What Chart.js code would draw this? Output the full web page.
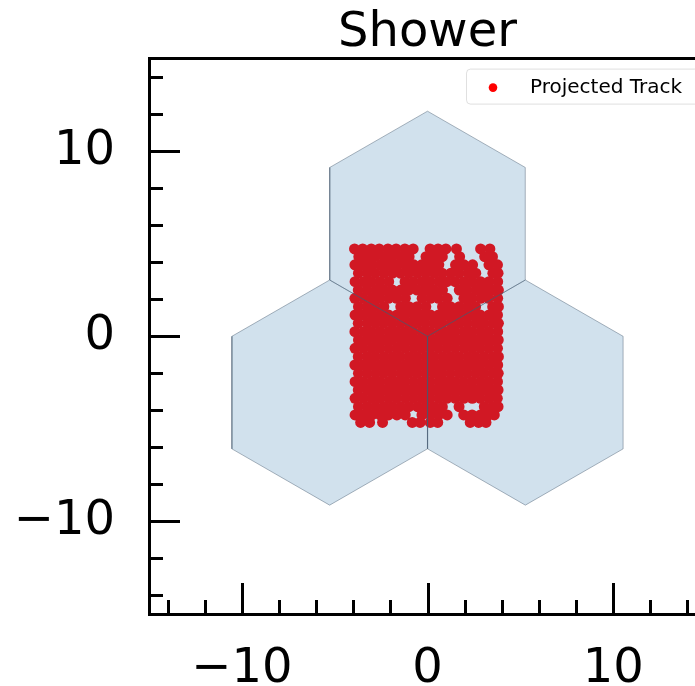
<!DOCTYPE html>
<html>
<head>
<meta charset="utf-8">
<script src="https://cdn.jsdelivr.net/npm/chart.js@4.4.1/dist/chart.umd.min.js"></script>
<style>
   html, body { margin: 0; padding: 0; background: #fff; overflow: hidden; }
</style>
</head>
<body>
<canvas id="myChart" width="720" height="686"></canvas>
<script>
//tick labels and minor tick positions
var majorTicks = [-10, 0, 10];
var minorTicks = [-14, -12, -8, -6, -4, -2, 2, 4, 6, 8, 12, 14];

//hexagon cells: centers and radius (data units)
var hexCenters = [[0, 6.08], [-5.27, -3.04], [5.27, -3.04]];
var hexRadius = 6.08;

//projected track hits, one row per y with the x positions
var trackRows = [
   [4.72, [-3.93, -3.49, -3.03, -2.6, -2.13, -1.69, -1.22, -0.77, 0.14, 0.57, 0.99, 1.56, 2.86, 3.36]],
   [4.3, [-3.7, -3.27, -2.83, -2.36, -1.9, -1.44, -0.99, -0.08, 0.36, 0.8, 1.73, 3.08, 3.5]],
   [3.86, [-3.91, -3.46, -3.01, -2.54, -2.11, -1.66, -1.19, -0.74, -0.31, 0.16, 0.61, 1.51, 1.97, 2.43, 3.31, 3.77]],
   [3.41, [-3.72, -3.24, -2.81, -2.34, -1.88, -1.46, -1.01, -0.54, -0.09, 0.36, 0.79, 1.26, 1.71, 2.19, 2.6, 3.52, 3.8]],
   [2.95, [-3.9, -3.44, -3.02, -2.56, -2.09, -1.21, -0.76, -0.29, 0.14, 0.61, 1.04, 1.49, 1.96, 2.41, 2.86, 3.31, 3.78]],
   [2.5, [-3.73, -3.26, -2.79, -2.36, -1.89, -1.44, -1.01, -0.56, -0.11, 0.34, 0.81, 1.71, 2.14, 2.61, 3.06, 3.49, 3.82]],
   [2.05, [-3.91, -3.45, -2.99, -2.56, -2.1, -1.66, -1.19, -0.29, 0.16, 0.59, 1.06, 1.96, 2.39, 2.86, 3.29, 3.78]],
   [1.6, [-3.72, -3.24, -2.81, -2.35, -1.44, -1.0, -0.56, -0.09, 0.81, 1.24, 1.71, 2.16, 2.59, 3.51, 3.82]],
   [1.15, [-3.9, -3.46, -3.0, -2.54, -2.1, -1.64, -1.21, -0.74, -0.3, 0.16, 0.6, 1.04, 1.51, 1.94, 2.41, 2.84, 3.31, 3.77]],
   [0.7, [-3.73, -3.24, -2.8, -2.36, -1.9, -1.45, -0.99, -0.55, -0.11, 0.35, 0.79, 1.26, 1.7, 2.15, 2.61, 3.04, 3.5, 3.82]],
   [0.25, [-3.91, -3.44, -3.01, -2.55, -2.09, -1.66, -1.2, -0.76, -0.29, 0.14, 0.61, 1.05, 1.49, 1.96, 2.4, 2.86, 3.3, 3.78]],
   [-0.2, [-3.72, -3.26, -2.79, -2.34, -1.91, -1.44, -1.0, -0.54, -0.1, 0.36, 0.8, 1.24, 1.71, 2.14, 2.6, 3.06, 3.49, 3.81]],
   [-0.65, [-3.9, -3.45, -3.0, -2.56, -2.1, -1.64, -1.2, -0.75, -0.31, 0.15, 0.59, 1.04, 1.5, 1.96, 2.41, 2.85, 3.3, 3.77]],
   [-1.1, [-3.73, -3.25, -2.81, -2.35, -1.89, -1.46, -0.99, -0.55, -0.09, 0.34, 0.81, 1.25, 1.69, 2.16, 2.59, 3.05, 3.51, 3.82]],
   [-1.55, [-3.91, -3.44, -2.99, -2.54, -2.11, -1.65, -1.19, -0.74, -0.3, 0.16, 0.6, 1.06, 1.5, 1.95, 2.4, 2.84, 3.31, 3.78]],
   [-2.0, [-3.72, -3.26, -2.8, -2.36, -1.9, -1.44, -1.01, -0.56, -0.1, 0.35, 0.79, 1.24, 1.71, 2.15, 2.6, 3.04, 3.5, 3.81]],
   [-2.45, [-3.9, -3.45, -3.0, -2.55, -2.09, -1.65, -1.21, -0.75, -0.29, 0.15, 0.61, 1.05, 1.49, 1.94, 2.4, 2.86, 3.3, 3.77]],
   [-2.9, [-3.73, -3.24, -2.8, -2.35, -1.9, -1.45, -0.99, -0.55, -0.11, 0.36, 0.8, 1.26, 1.7, 2.15, 2.61, 3.05, 3.5, 3.8]],
   [-3.35, [-3.9, -3.45, -3.0, -2.56, -2.1, -1.66, -1.19, -0.75, -0.3, 0.14, 0.6, 1.04, 1.5, 1.95, 2.41, 2.85, 3.31, 3.76]],
   [-3.8, [-3.72, -3.25, -2.8, -2.34, -1.9, -1.45, -1.0, -0.54, -0.1, 0.35, 0.8, 1.7, 3.06, 3.5, 3.8]],
   [-4.25, [-3.9, -3.44, -2.99, -2.55, -2.1, -1.65, -1.2, -0.3, 0.16, 0.6, 1.06, 1.95, 2.4, 2.85, 3.3, 3.6]],
   [-4.65, [-3.6, -3.12, -2.42, -0.82, -0.4, 0.15, 0.55, 2.3, 2.75, 3.15]]
];

var FONT = 'DejaVu Sans';

//flatten the rows into scatter points
var trackPoints = [];
trackRows.forEach(function(row){
   row[1].forEach(function(x){
      trackPoints.push({x: x, y: row[0]});
   });
});

//build the outline of a pointy-top hexagon around a center
function hexOutline(c){
   var pts = [];
   [90, 150, 210, 270, 330, 30, 90].forEach(function(deg){
      var a = deg * Math.PI / 180;
      pts.push({x: c[0] + hexRadius * Math.cos(a), y: c[1] + hexRadius * Math.sin(a)});
   });
   return pts;
}

var datasets = hexCenters.map(function(c){
   return {
      label: 'cell',
      data: hexOutline(c),
      showLine: true,
      fill: 'shape',
      tension: 0,
      pointRadius: 0,
      borderWidth: 1,
      borderColor: 'rgba(70,90,110,0.45)',
      backgroundColor: 'rgba(40,115,170,0.21)',
      order: 1
   };
});
datasets.push({
   label: 'Projected Track',
   data: trackPoints,
   pointRadius: 5.5,
   pointBorderWidth: 0,
   pointBackgroundColor: '#ff0000',
   backgroundColor: '#ff0000',
   order: 2
});

//frame, inward ticks and the legend box
var frameAndTicks = {
   id: 'frameAndTicks',
   afterDraw: function(chart){
      var ctx = chart.ctx;
      var a = chart.chartArea;
      var sx = chart.scales.x, sy = chart.scales.y;
      ctx.save();
      ctx.strokeStyle = '#000';
      ctx.lineWidth = 3;
      ctx.beginPath();
      ctx.moveTo(a.left, a.top);
      ctx.lineTo(a.right, a.top);
      ctx.lineTo(a.right, a.bottom);
      ctx.stroke();
      function tick(v, len){
         var px = Math.round(sx.getPixelForValue(v)) + 0.5;
         ctx.beginPath();
         ctx.moveTo(px, a.bottom);
         ctx.lineTo(px, a.bottom - len);
         ctx.stroke();
         var py = Math.round(sy.getPixelForValue(v)) + 0.5;
         ctx.beginPath();
         ctx.moveTo(a.left, py);
         ctx.lineTo(a.left + len, py);
         ctx.stroke();
      }
      majorTicks.forEach(function(v){ tick(v, 31); });
      minorTicks.forEach(function(v){ tick(v, 14); });

      //legend
      var ds = chart.data.datasets[chart.data.datasets.length - 1];
      var bx = 466, by = a.top + 10, bw = a.right - 8 - bx, bh = 35;
      ctx.fillStyle = 'rgba(255,255,255,0.8)';
      ctx.strokeStyle = 'rgba(204,204,204,0.6)';
      ctx.lineWidth = 1;
      ctx.beginPath();
      ctx.roundRect(bx + 0.5, by + 0.5, bw, bh, 4);
      ctx.fill();
      ctx.stroke();
      ctx.fillStyle = ds.pointBackgroundColor;
      ctx.beginPath();
      ctx.arc(bx + 27, by + 19, 4.3, 0, Math.PI * 2);
      ctx.fill();
      ctx.fillStyle = '#000';
      ctx.font = '20px "' + FONT + '"';
      ctx.textBaseline = 'alphabetic';
      ctx.textAlign = 'left';
      ctx.fillText(ds.label, bx + 64, by + 24);
      ctx.restore();
   }
};

function tickLabel(v){
   return v < 0 ? '\u2212' + Math.abs(v) : String(v);
}

var ctx = document.getElementById('myChart').getContext('2d');
var chart = new Chart(ctx, {
   type: 'scatter',
   data: {datasets: datasets},
   options: {
      responsive: false,
      animation: false,
      devicePixelRatio: 1,
      layout: {padding: {top: 1, right: 14, left: 0, bottom: 0}},
      plugins: {
         legend: {display: false},
         tooltip: {enabled: false},
         title: {
            display: true,
            text: 'Shower',
            fullSize: false,
            color: '#000',
            font: {family: FONT, size: 48, weight: 'normal', lineHeight: 1.2},
            padding: {top: 4, bottom: -4}
         }
      },
      scales: {
         x: {
            type: 'linear',
            min: -15,
            max: 15,
            afterBuildTicks: function(s){ s.ticks = majorTicks.map(function(v){ return {value: v}; }); },
            afterFit: function(s){ s.height = 72; s.paddingLeft = 0; s.paddingRight = 0; },
            grid: {display: true, drawOnChartArea: false, drawTicks: false},
            border: {display: true, width: 3, color: '#000'},
            ticks: {
               autoSkip: false,
               maxRotation: 0,
               padding: 27,
               color: '#000',
               font: {family: FONT, size: 48},
               callback: tickLabel
            }
         },
         y: {
            type: 'linear',
            min: -15,
            max: 15,
            afterBuildTicks: function(s){ s.ticks = majorTicks.map(function(v){ return {value: v}; }); },
            //labels sit far from the ends, so no extra room above/below is needed
            afterFit: function(s){ s.width = 149; s.paddingTop = 0; s.paddingBottom = 0; },
            grid: {display: true, drawOnChartArea: false, drawTicks: false},
            border: {display: true, width: 3, color: '#000'},
            ticks: {
               autoSkip: false,
               padding: 34,
               color: '#000',
               font: {family: FONT, size: 48},
               callback: tickLabel
            }
         }
      }
   },
   plugins: [frameAndTicks]
});
</script>
</body>
</html>
